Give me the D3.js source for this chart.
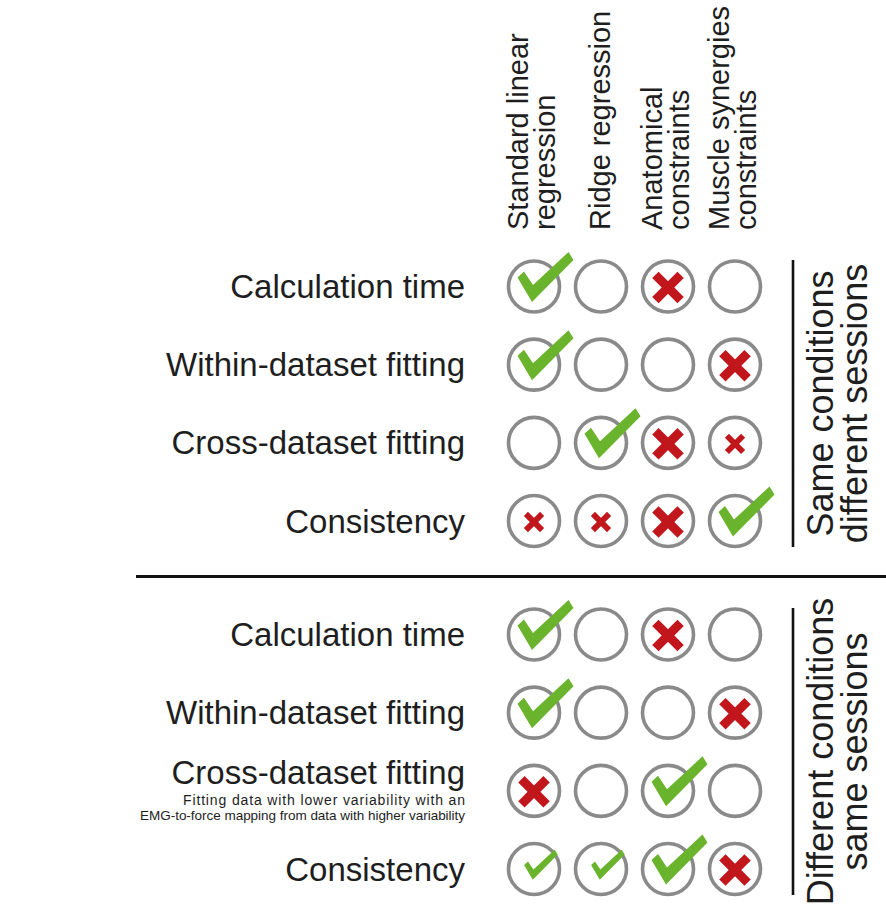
<!DOCTYPE html>
<html>
<head>
<meta charset="utf-8">
<script src="https://cdn.jsdelivr.net/npm/d3@7"></script>
<style>
  html, body { margin: 0; padding: 0; background: #fff; }
  svg { display: block; }
  text { font-family: "Liberation Sans", Arial, Helvetica, sans-serif; fill: #1e1e1e; }
</style>
</head>
<body>
<svg id="chart" width="886" height="905"></svg>
<script>
// ---------- data ----------
const methods = ["Standard linear regression", "Ridge regression", "Anatomical constraints", "Muscle synergies constraints"];
const methodLabelLines = [["Standard linear", "regression"], ["Ridge regression"], ["Anatomical", "constraints"], ["Muscle synergies", "constraints"]];
const criteria = ["Calculation time", "Within-dataset fitting", "Cross-dataset fitting", "Consistency"];
const sectionNames = ["Same conditions different sessions", "Different conditions same sessions"];
const sectionLabelLines = [["Same conditions", "different sessions"], ["Different conditions", "same sessions"]];
// 2 = large check, 1 = small check, 0 = empty, -1 = small cross, -2 = large cross
const sameConditionsValues = [
  [2, 0, -2, 0],
  [2, 0, 0, -2],
  [0, 2, -2, -1],
  [-1, -1, -2, 2]
];
const differentConditionsValues = [
  [2, 0, -2, 0],
  [2, 0, 0, -2],
  [-2, 0, 2, 0],
  [1, 1, 2, -2]
];
const crossDatasetNote = ["Fitting data with lower variability with an", "EMG-to-force mapping from data with higher variability"];

// ---------- layout ----------
const svg = d3.select("#chart");
const GRAY = "#8a8a8a", GREEN = "#69b42c", RED = "#c1161b";

const x = d3.scalePoint().domain(methods).range([534, 735]);
const ySections = [
  d3.scalePoint().domain(criteria).range([286.5, 521]),
  d3.scalePoint().domain(criteria).range([634.5, 869])
];
const sectionData = [sameConditionsValues, differentConditionsValues];

// column headers (rotated)
const headerBase = 230;
methods.forEach((m, i) => {
  const lines = methodLabelLines[i];
  const cx = x(m);
  const offsets = lines.length === 2 ? [-6, 21] : [9];
  lines.forEach((ln, j) => {
    svg.append("text")
      .attr("transform", `translate(${cx + offsets[j]},${headerBase}) rotate(-90)`)
      .attr("text-anchor", "start")
      .style("font-size", "29px")
      .text(ln);
  });
});

// check path (relative to circle centre, large size)
const checkPts = [[-16.5, -9], [-10, -15], [-1, -1.5], [34.5, -34.5], [39.5, -26.5], [-2, 15.5]];
const checkPath = d3.line()(checkPts) + "Z";

sectionData.forEach((vals, s) => {
  const y = ySections[s];
  const g = svg.append("g");
  criteria.forEach((c, r) => {
    methods.forEach((m, k) => {
      const v = vals[r][k];
      const cx = x(m), cy = y(c);
      g.append("circle").attr("cx", cx).attr("cy", cy).attr("r", 25.5)
        .attr("fill", "none").attr("stroke", GRAY).attr("stroke-width", 3.6);
      if (v > 0) {
        const sc = v === 2 ? 1 : 0.6;
        const dy = v === 2 ? 0 : 1.5;
        g.append("path").attr("d", checkPath)
          .attr("transform", `translate(${cx},${cy + dy}) scale(${sc})`)
          .attr("fill", GREEN);
      } else if (v < 0) {
        const a = v === -2 ? 12.6 : 8.1;
        const w = v === -2 ? 9 : 5.8;
        [[-a, -a, a, a], [-a, a, a, -a]].forEach(p => {
          g.append("line")
            .attr("x1", cx + p[0]).attr("y1", cy + 1 + p[1])
            .attr("x2", cx + p[2]).attr("y2", cy + 1 + p[3])
            .attr("stroke", RED).attr("stroke-width", w).attr("stroke-linecap", "butt");
        });
      }
    });
    // row label
    const isNote = s === 1 && c === "Cross-dataset fitting";
    svg.append("text")
      .attr("x", 465).attr("y", y(c) + (isNote ? -6.5 : 11.5))
      .attr("text-anchor", "end")
      .style("font-size", "33px")
      .text(c);
    if (isNote) {
      const noteLen = [282, 325];
      const noteSize = [14, 13.5];
      crossDatasetNote.forEach((ln, j) => {
        svg.append("text")
          .attr("x", 465 - noteLen[j]).attr("y", y(c) + 14 + j * 15)
          .attr("text-anchor", "start")
          .attr("textLength", noteLen[j])
          .attr("lengthAdjust", "spacing")
          .style("font-size", noteSize[j] + "px")
          .text(ln);
      });
    }
  });

  // section bracket line + label
  const top = y(criteria[0]) - 26.5, bot = y(criteria[criteria.length - 1]) + 26;
  svg.append("line").attr("x1", 793).attr("x2", 793).attr("y1", top).attr("y2", bot)
    .attr("stroke", "#111").attr("stroke-width", 2.6);
  const mid = (top + bot) / 2;
  sectionLabelLines[s].forEach((ln, j) => {
    svg.append("text")
      .attr("transform", `translate(${833 + j * 34},${mid}) rotate(-90)`)
      .attr("text-anchor", "middle")
      .style("font-size", "36px")
      .text(ln);
  });
});

// separator between sections
svg.append("line").attr("x1", 136).attr("x2", 886).attr("y1", 576.5).attr("y2", 576.5)
  .attr("stroke", "#111").attr("stroke-width", 3);
</script>
</body>
</html>
